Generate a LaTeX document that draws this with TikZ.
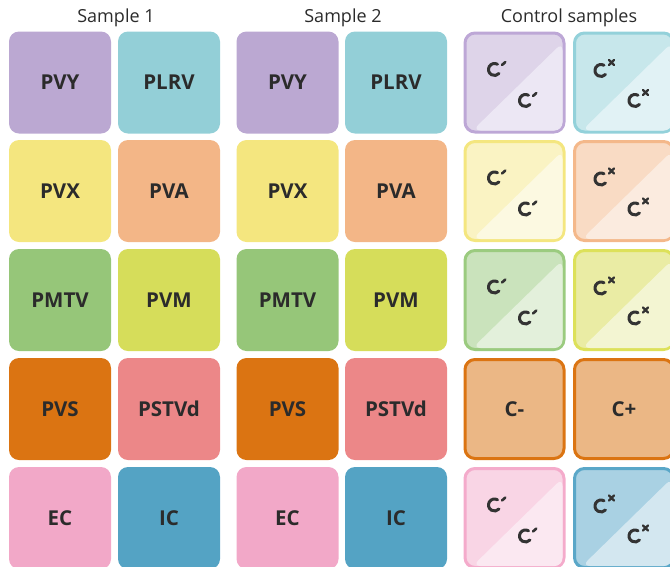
\documentclass[tikz,border=0pt]{standalone}
\usepackage{fontspec}
\setmainfont{Open Sans}
\usetikzlibrary{calc}
\definecolor{txt}{HTML}{2B2B2B}
\definecolor{ic}{HTML}{333333}
\definecolor{cPVY}{HTML}{BBA8D2}
\definecolor{cPLRV}{HTML}{93CFD7}
\definecolor{cPVX}{HTML}{F4E67F}
\definecolor{cPVA}{HTML}{F3B687}
\definecolor{cPMTV}{HTML}{96C679}
\definecolor{cPVM}{HTML}{D6DD5A}
\definecolor{cPVS}{HTML}{DB7412}
\definecolor{cPSTVd}{HTML}{EC8788}
\definecolor{cEC}{HTML}{F2A8C8}
\definecolor{cIC}{HTML}{54A3C4}
\definecolor{cCtl}{HTML}{EBB785}
% control tile colours: border, dark, light
\definecolor{bPur}{HTML}{BDA7D6}\definecolor{dPur}{HTML}{DED4E9}\definecolor{lPur}{HTML}{ECE7F4}
\definecolor{bTea}{HTML}{93D1DA}\definecolor{dTea}{HTML}{C7E7EB}\definecolor{lTea}{HTML}{E1F2F5}
\definecolor{bYel}{HTML}{F4E67F}\definecolor{dYel}{HTML}{FAF3C3}\definecolor{lYel}{HTML}{FCF9E1}
\definecolor{bOra}{HTML}{F4B88A}\definecolor{dOra}{HTML}{F9DBC4}\definecolor{lOra}{HTML}{FBEBDF}
\definecolor{bGre}{HTML}{9BCB7F}\definecolor{dGre}{HTML}{CAE3BC}\definecolor{lGre}{HTML}{E3F0DB}
\definecolor{bLim}{HTML}{DDE15A}\definecolor{dLim}{HTML}{EAECA4}\definecolor{lLim}{HTML}{F3F5D2}
\definecolor{bPin}{HTML}{F4ABCB}\definecolor{dPin}{HTML}{F9D5E5}\definecolor{lPin}{HTML}{FBE8F1}
\definecolor{bBlu}{HTML}{5AA7C8}\definecolor{dBlu}{HTML}{A9D1E3}\definecolor{lBlu}{HTML}{D3E7F0}
\tikzset{
  tile/.style={minimum width=102pt,minimum height=102pt,inner sep=0pt,rounded corners=10pt,
    font=\fontsize{20.5}{24}\selectfont\bfseries,text=txt},
  ctile/.style={tile,line width=3pt,minimum width=99pt,minimum height=99pt},
  ctl/.style={ctile,draw=cPVS,fill=cCtl,font=\fontsize{20.5}{24}\selectfont\bfseries,text=txt},
  ttl/.style={font=\fontsize{18}{22}\selectfont,text=txt},
  icon/.style={draw=ic,line width=3pt,line cap=round},
  ringcheck/.pic={
    \draw[icon] (60:6pt) arc[start angle=60,end angle=318,radius=6pt];
    \draw[icon,line width=2.6pt] (7.6pt,4.6pt) -- (10.8pt,7.4pt);
  },
  ringcross/.pic={
    \draw[icon] (60:6pt) arc[start angle=60,end angle=318,radius=6pt];
    \draw[icon,line width=2.4pt] (8pt,5.5pt) -- (13pt,10.5pt) (8pt,10.5pt) -- (13pt,5.5pt);
  }
}
\newcommand{\lighttri}[2]{%
  \fill[#2,rounded corners=8pt] ($(#1.south west)+(9,-3)$) -- ($(#1.south east)+(-3,-3)$)
    -- ($(#1.north east)+(-3,11)$) -- cycle;}
\begin{document}
\begin{tikzpicture}[x=1pt,y=-1pt]
\useasboundingbox (0,0) rectangle (670,566);
\clip (0,0) rectangle (670,566);
% titles
\node[ttl] (t1) at (116,18) {Sample 1};
\node[ttl] (t2) at (343,18) {Sample 2};
\node[ttl] (t3) at (569,18) {Control samples};
% sample 1
\node[tile,fill=cPVY]   (a1) at (60,82.5) {PVY};
\node[tile,fill=cPLRV]  (a2) at (169,82.5) {PLRV};
\node[tile,fill=cPVX]   (a3) at (60,191) {PVX};
\node[tile,fill=cPVA]   (a4) at (169,191) {PVA};
\node[tile,fill=cPMTV]  (a5) at (60,300) {PMTV};
\node[tile,fill=cPVM]   (a6) at (169,300) {PVM};
\node[tile,fill=cPVS]   (a7) at (60,409) {PVS};
\node[tile,fill=cPSTVd] (a8) at (169,409) {PSTVd};
\node[tile,fill=cEC]    (a9) at (60,518) {EC};
\node[tile,fill=cIC]    (a10) at (169,518) {IC};
% sample 2
\node[tile,fill=cPVY]   (b1) at (287.5,82.5) {PVY};
\node[tile,fill=cPLRV]  (b2) at (396,82.5) {PLRV};
\node[tile,fill=cPVX]   (b3) at (287.5,191) {PVX};
\node[tile,fill=cPVA]   (b4) at (396,191) {PVA};
\node[tile,fill=cPMTV]  (b5) at (287.5,300) {PMTV};
\node[tile,fill=cPVM]   (b6) at (396,300) {PVM};
\node[tile,fill=cPVS]   (b7) at (287.5,409) {PVS};
\node[tile,fill=cPSTVd] (b8) at (396,409) {PSTVd};
\node[tile,fill=cEC]    (b9) at (287.5,518) {EC};
\node[tile,fill=cIC]    (b10) at (396,518) {IC};
% control samples
\node[ctile,draw=bPur,fill=dPur] (c1) at (514.5,82.5) {};
\node[ctile,draw=bTea,fill=dTea] (c2) at (624,82.5) {};
\node[ctile,draw=bYel,fill=dYel] (c3) at (514.5,191) {};
\node[ctile,draw=bOra,fill=dOra] (c4) at (624,191) {};
\node[ctile,draw=bGre,fill=dGre] (c5) at (514.5,300) {};
\node[ctile,draw=bLim,fill=dLim] (c6) at (624,300) {};
\node[ctl] (c7) at (514.5,409) {C-};
\node[ctl] (c8) at (624,409) {C+};
\node[ctile,draw=bPin,fill=dPin] (c9) at (514.5,518) {};
\node[ctile,draw=bBlu,fill=dBlu] (c10) at (624,518) {};
\lighttri{c1}{lPur}\lighttri{c2}{lTea}
\lighttri{c3}{lYel}\lighttri{c4}{lOra}
\lighttri{c5}{lGre}\lighttri{c6}{lLim}
\lighttri{c9}{lPin}\lighttri{c10}{lBlu}
\foreach \n in {c1,c3,c5,c9}{
  \pic at ($(\n.north west)+(31,38)$) {ringcheck};
  \pic at ($(\n.north west)+(62,69)$) {ringcheck};
}
\foreach \n in {c2,c4,c6,c10}{
  \pic at ($(\n.north west)+(28,39)$) {ringcross};
  \pic at ($(\n.north west)+(62,69)$) {ringcross};
}
\end{tikzpicture}
\end{document}
